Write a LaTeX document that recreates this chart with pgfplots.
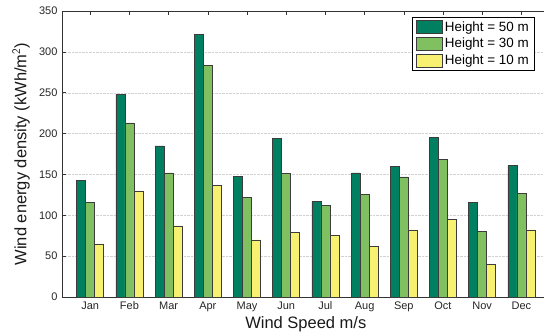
\documentclass[border=0pt]{standalone}
\usepackage{pgfplots}
\pgfplotsset{compat=1.18}
\usepackage{fontspec}
\setmainfont{Liberation Sans}
\definecolor{cA}{RGB}{0,128,96}
\definecolor{cB}{RGB}{128,192,96}
\definecolor{cC}{RGB}{248,240,112}
\definecolor{edge}{RGB}{60,60,60}
\begin{document}
\begin{tikzpicture}
\begin{axis}[
  /pgf/number format/assume math mode=true,
  scale only axis,
  width=487.6pt, height=286pt,
  xmin=-0.72, xmax=11.72, ymin=0, ymax=350,
  ybar=0pt, bar width=9pt,
  xtick={0,...,11},
  xticklabels={Jan,Feb,Mar,Apr,May,Jun,Jul,Aug,Sep,Oct,Nov,Dec},
  ytick={0,50,...,350},
  tick align=inside,
  major tick length=4pt,
  tick style={black!80, line width=0.5pt},
  axis line style={black!80, line width=0.7pt},
  ymajorgrids,
  grid style={densely dotted, gray!35, line width=0.4pt},
  ticklabel style={font=\fontsize{11}{13}\selectfont, black!85},
  yticklabel style={xshift=-1pt},
  xticklabel style={yshift=-1pt},
  xlabel={Wind Speed m/s},
  ylabel={Wind energy density (kWh/m$^{\mathsf{2}}$)},
  label style={font=\fontsize{16.5}{19}\selectfont, black!90},
  xlabel style={at={(axis description cs:0.5,0)}, anchor=center, yshift=-27pt},
  ylabel style={at={(axis description cs:-0.084,0.5)}, anchor=center},
  legend style={at={(axis description cs:0.718,0.979)}, anchor=north west,
    draw=black, line width=0.6pt, font=\fontsize{13.4}{15.5}\selectfont,
    row sep=1.5pt, inner xsep=4pt, inner ysep=2pt},
  legend cell align=left,
  legend image code/.code={\draw[#1,/tikz/.cd,line width=0.5pt] (0pt,-6.5pt) rectangle (26pt,6.5pt);},
  every axis plot/.append style={draw=edge, line width=0.5pt},
]
\addplot[fill=cA] coordinates {(0,143) (1,248) (2,185) (3,321) (4,148) (5,194) (6,117) (7,152) (8,160) (9,195) (10,116) (11,161)};
\addplot[fill=cB] coordinates {(0,116) (1,213) (2,152) (3,283) (4,122) (5,151) (6,112) (7,126) (8,147) (9,168) (10,80) (11,127)};
\addplot[fill=cC] coordinates {(0,65) (1,130) (2,87) (3,137) (4,70) (5,79) (6,75) (7,62) (8,82) (9,95) (10,40) (11,82)};
\legend{Height = 50 m, Height = 30 m, Height = 10 m}
\end{axis}
\pgfresetboundingbox
\useasboundingbox (-62pt,-38pt) rectangle (482pt,297pt);
\end{tikzpicture}
\end{document}
